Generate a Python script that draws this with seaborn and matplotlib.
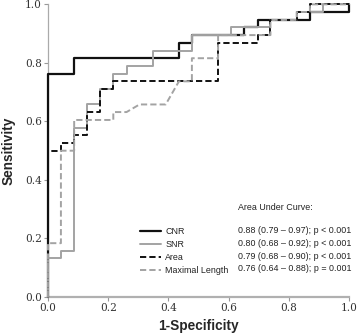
import matplotlib
matplotlib.use('Agg')
import matplotlib.pyplot as plt
import seaborn as sns

# ROC curve points (1-specificity, sensitivity)
cnr_fpr = [0.0, 0.0, 0.087, 0.087, 0.435, 0.435, 0.478, 0.478, 0.652, 0.652, 0.696, 0.696, 0.870, 0.870, 1.0, 1.0]
cnr_tpr = [0.0, 0.763, 0.763, 0.816, 0.816, 0.868, 0.868, 0.895, 0.895, 0.921, 0.921, 0.947, 0.947, 0.974, 0.974, 1.0]

snr_fpr = [0.0, 0.0, 0.043, 0.043, 0.087, 0.087, 0.130, 0.130, 0.174, 0.174, 0.217, 0.217, 0.261, 0.261,
           0.348, 0.348, 0.478, 0.478, 0.609, 0.609, 0.739, 0.739, 0.826, 0.826, 0.913, 0.913, 1.0]
snr_tpr = [0.0, 0.132, 0.132, 0.158, 0.158, 0.579, 0.579, 0.658, 0.658, 0.711, 0.711, 0.763, 0.763, 0.789,
           0.789, 0.842, 0.842, 0.895, 0.895, 0.921, 0.921, 0.947, 0.947, 0.974, 0.974, 1.0, 1.0]

area_fpr = [0.0, 0.0, 0.043, 0.043, 0.087, 0.087, 0.130, 0.130, 0.174, 0.174, 0.217, 0.217, 0.565, 0.565,
            0.696, 0.696, 0.739, 0.739, 0.826, 0.826, 0.870, 0.870, 1.0]
area_tpr = [0.0, 0.500, 0.500, 0.526, 0.526, 0.553, 0.553, 0.632, 0.632, 0.711, 0.711, 0.737, 0.737, 0.868,
            0.868, 0.895, 0.895, 0.947, 0.947, 0.974, 0.974, 1.0, 1.0]

len_fpr = [0.0, 0.0, 0.043, 0.043, 0.087, 0.087, 0.217, 0.217, 0.261, 0.304, 0.391, 0.435, 0.478, 0.478,
           0.565, 0.565, 0.739, 0.739, 0.826, 0.826, 0.870, 0.870, 1.0]
len_tpr = [0.0, 0.184, 0.184, 0.500, 0.500, 0.605, 0.605, 0.632, 0.632, 0.658, 0.658, 0.737, 0.737, 0.816,
           0.816, 0.895, 0.895, 0.947, 0.947, 0.974, 0.974, 1.0, 1.0]

labels = ['CNR', 'SNR', 'Area', 'Maximal Length']
auc_text = ['0.88 (0.79 \u2013 0.97); p < 0.001',
            '0.80 (0.68 \u2013 0.92); p < 0.001',
            '0.79 (0.68 \u2013 0.90); p < 0.001',
            '0.76 (0.64 \u2013 0.88); p = 0.001']
ticks = [0.0, 0.2, 0.4, 0.6, 0.8, 1.0]

sns.set_style('white')
small_font = {'family': 'Liberation Sans', 'size': 6.4}

fig = plt.figure(figsize=(3.58, 3.36), dpi=100)
ax = fig.add_axes([0.134, 0.116, 0.841, 0.871])

styles = [
    (cnr_fpr, cnr_tpr, '#111111', '-', 1.6),
    (snr_fpr, snr_tpr, '#a3a3a3', '-', 1.4),
    (area_fpr, area_tpr, '#111111', (0, (3.2, 1.6)), 1.4),
    (len_fpr, len_tpr, '#a3a3a3', (0, (3.2, 1.6)), 1.4),
]
for (fx, fy, col, ls, lw), lab in zip(styles, labels):
    sns.lineplot(x=fx, y=fy, ax=ax, estimator=None, sort=False, color=col,
                 linestyle=ls, linewidth=lw, label=lab, clip_on=False, zorder=3)

ax.set_xlim(0, 1)
ax.set_ylim(0, 1)
ax.set_xticks(ticks)
ax.set_yticks(ticks)
ax.set_xticklabels(['%.1f' % t for t in ticks], family='DejaVu Serif', fontsize=7.6, color='#333333')
ax.set_yticklabels(['%.1f' % t for t in ticks], family='DejaVu Serif', fontsize=7.6, color='#333333')
ax.tick_params(axis='both', direction='out', length=3, width=0.8, color='#999999', pad=1.5,
               bottom=True, left=True)
sns.despine(ax=ax)
ax.spines['left'].set_color('#aaaaaa')
ax.spines['left'].set_linewidth(0.9)
ax.spines['bottom'].set_color('#b0b0b0')
ax.spines['bottom'].set_linewidth(1.6)

ax.set_xlabel('1-Specificity', family='Liberation Sans', fontweight='bold', fontsize=9.8, labelpad=4)
ax.set_ylabel('Sensitivity', family='Liberation Sans', fontweight='bold', fontsize=9.8)
ax.yaxis.set_label_coords(-0.108, 0.5)

leg = ax.legend(loc='upper left', bbox_to_anchor=(0.306, 0.238), frameon=False,
                prop=small_font, handlelength=2.3, handletextpad=0.55,
                labelspacing=0.44, borderaxespad=0, borderpad=0)
for t in leg.get_texts():
    t.set_color('#222222')

ax.text(0.631, 0.305, 'Area Under Curve:', transform=ax.transAxes, fontdict=small_font,
        color='#222222', va='center', ha='left')
for i, s in enumerate(auc_text):
    ax.text(0.631, 0.226 - i * 0.0434, s, transform=ax.transAxes, fontdict=small_font,
            color='#222222', va='center', ha='left')

fig.savefig('out.png', dpi=100)
